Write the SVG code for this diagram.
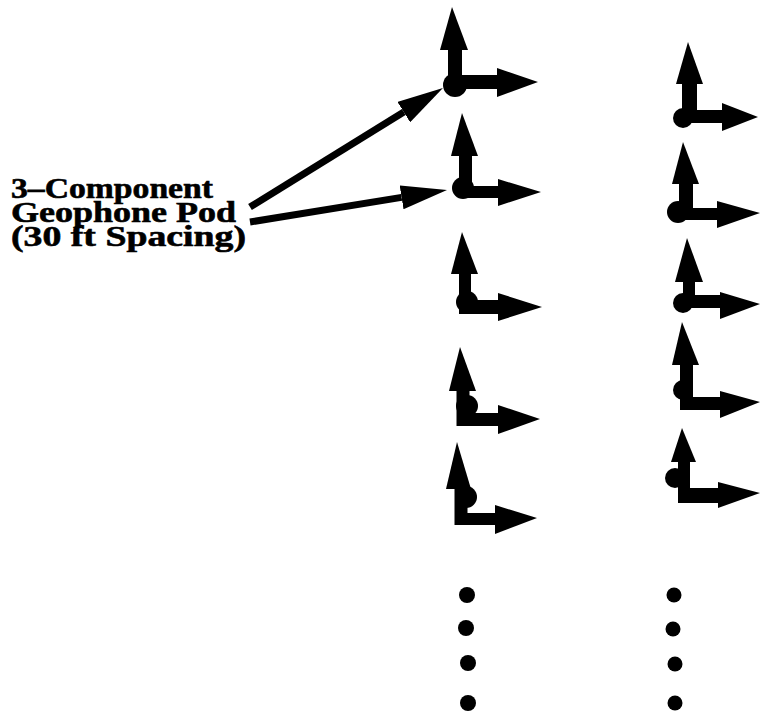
<svg xmlns="http://www.w3.org/2000/svg" width="760" height="712" viewBox="0 0 760 712">
<style>
.ink{fill:#000;stroke:none}
.shaft{stroke:#000;stroke-linecap:butt;fill:none}
.ptr{stroke:#000;stroke-width:7;fill:none;marker-end:url(#head)}
.lbl{font-weight:bold;font-size:30px;fill:#000;stroke:#000;stroke-width:0.6}
</style>
<defs>
<marker id="head" viewBox="0 0 46 24" refX="0" refY="12" markerWidth="46" markerHeight="24" markerUnits="userSpaceOnUse" orient="auto">
<path d="M0,0 L46,12 L0,24 Z" fill="#000"/>
</marker>
</defs>
<rect width="760" height="712" fill="#fff"/>

<g id="label" font-family="Liberation Serif, Times New Roman, Times, serif">
<text class="lbl" x="11" y="198" textLength="202" lengthAdjust="spacingAndGlyphs">3–Component</text>
<text class="lbl" x="11" y="222" textLength="225" lengthAdjust="spacingAndGlyphs">Geophone Pod</text>
<text class="lbl" x="11" y="246" textLength="235" lengthAdjust="spacingAndGlyphs">(30 ft Spacing)</text>
</g>

<g id="pod-L1">
<line class="shaft" x1="455" y1="46" x2="455" y2="89" stroke-width="14"/>
<polygon class="ink" points="452,7 440,50 468,50"/>
<line class="shaft" x1="455" y1="82" x2="499" y2="82" stroke-width="14"/>
<polygon class="ink" points="497,68 538,82 497,97"/>
<circle class="ink" cx="455" cy="85" r="12"/>
</g>
<g id="pod-L2">
<line class="shaft" x1="465.5" y1="153" x2="465.5" y2="198" stroke-width="13"/>
<polygon class="ink" points="462,113 451,156 478,156"/>
<line class="shaft" x1="463" y1="192" x2="500" y2="192" stroke-width="12"/>
<polygon class="ink" points="498,179 541,192 498,206"/>
<circle class="ink" cx="463" cy="188" r="11"/>
</g>
<g id="pod-L3">
<line class="shaft" x1="465" y1="271" x2="465" y2="314" stroke-width="12"/>
<polygon class="ink" points="462,232 451,274 478,274"/>
<line class="shaft" x1="459" y1="307" x2="500" y2="307" stroke-width="14"/>
<polygon class="ink" points="498,293 542,307 498,321"/>
<circle class="ink" cx="467" cy="302" r="11"/>
</g>
<g id="pod-L4">
<line class="shaft" x1="463" y1="388" x2="463" y2="426" stroke-width="13"/>
<polygon class="ink" points="460,347 449,391 476,391"/>
<line class="shaft" x1="457" y1="419.5" x2="500" y2="419.5" stroke-width="13"/>
<polygon class="ink" points="498,405 540,419 498,434"/>
<circle class="ink" cx="467" cy="406" r="11"/>
</g>
<g id="pod-L5">
<line class="shaft" x1="461" y1="485" x2="461" y2="525" stroke-width="13"/>
<polygon class="ink" points="457,442 446,489 471,489"/>
<line class="shaft" x1="455" y1="519" x2="497" y2="519" stroke-width="12"/>
<polygon class="ink" points="495,505 537,518 495,534"/>
<circle class="ink" cx="466" cy="497" r="11"/>
</g>

<g id="pod-R1">
<line class="shaft" x1="689.5" y1="80" x2="689.5" y2="123" stroke-width="15"/>
<polygon class="ink" points="688,42 676,84 703,84"/>
<line class="shaft" x1="683" y1="116.5" x2="724" y2="116.5" stroke-width="13"/>
<polygon class="ink" points="722,103 758,117 722,131"/>
<circle class="ink" cx="683" cy="118" r="10"/>
</g>
<g id="pod-R2">
<line class="shaft" x1="686" y1="180" x2="686" y2="220" stroke-width="14"/>
<polygon class="ink" points="683,142 672,184 699,184"/>
<line class="shaft" x1="678" y1="214" x2="719" y2="214" stroke-width="12"/>
<polygon class="ink" points="717,201 760,213 717,228"/>
<circle class="ink" cx="678" cy="212" r="11"/>
</g>
<g id="pod-R3">
<line class="shaft" x1="689" y1="278" x2="689" y2="308" stroke-width="12"/>
<polygon class="ink" points="687,238 675,282 703,282"/>
<line class="shaft" x1="683" y1="301.5" x2="722" y2="301.5" stroke-width="13"/>
<polygon class="ink" points="720,292 760,304 720,319"/>
<circle class="ink" cx="683" cy="303" r="10"/>
</g>
<g id="pod-R4">
<line class="shaft" x1="686.5" y1="361" x2="686.5" y2="410" stroke-width="13"/>
<polygon class="ink" points="682,322 672,365 699,365"/>
<line class="shaft" x1="682" y1="403.5" x2="722" y2="403.5" stroke-width="13"/>
<polygon class="ink" points="720,391 760,402 720,418"/>
<circle class="ink" cx="683" cy="390" r="10"/>
</g>
<g id="pod-R5">
<line class="shaft" x1="684" y1="458" x2="684" y2="503" stroke-width="12"/>
<polygon class="ink" points="682,428 671,462 696,462"/>
<line class="shaft" x1="679" y1="495.5" x2="720" y2="495.5" stroke-width="15"/>
<polygon class="ink" points="718,482 760,493 718,508"/>
<circle class="ink" cx="675" cy="478" r="10"/>
</g>

<g id="continuation-dots">
<circle class="ink" cx="467" cy="595" r="8"/>
<circle class="ink" cx="466" cy="628" r="8"/>
<circle class="ink" cx="468" cy="663" r="8"/>
<circle class="ink" cx="468" cy="703" r="8"/>
<circle class="ink" cx="674" cy="595" r="7.5"/>
<circle class="ink" cx="673" cy="629" r="7.5"/>
<circle class="ink" cx="675" cy="664" r="7.5"/>
<circle class="ink" cx="675" cy="703" r="7.5"/>
</g>

<g id="connectors">
<line class="ptr" x1="250" y1="207" x2="403.8" y2="112.1"/>
<line class="ptr" x1="250" y1="222" x2="401.6" y2="197.4"/>
</g>
</svg>
